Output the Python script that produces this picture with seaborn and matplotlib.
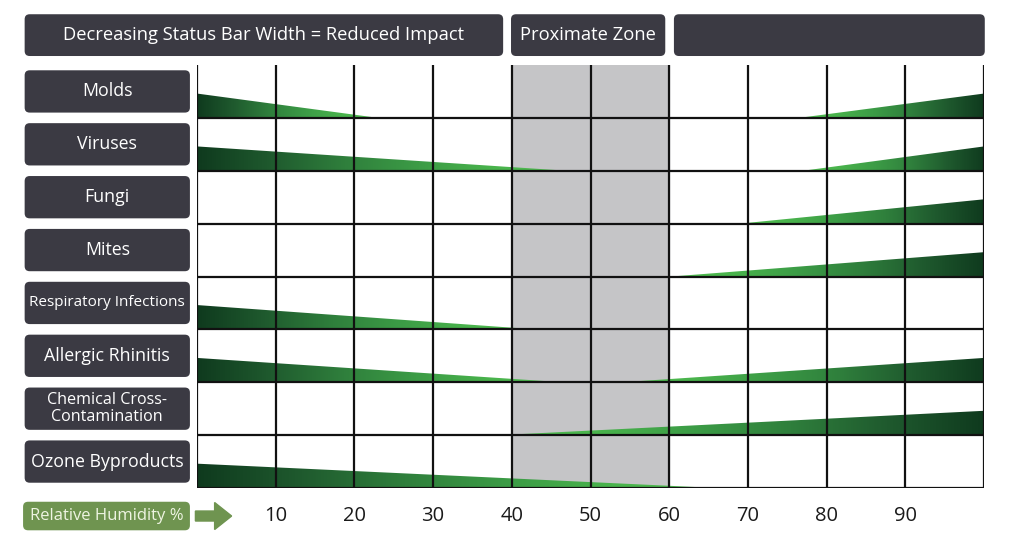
import numpy as np
import seaborn as sns
import matplotlib.pyplot as plt
from matplotlib.patches import FancyBboxPatch, Polygon, FancyArrow

# rows, top to bottom
categories = ["Molds", "Viruses", "Fungi", "Mites", "Respiratory Infections",
              "Allergic Rhinitis", "Chemical Cross-\nContamination", "Ozone Byproducts"]
# humidity % where the low-humidity impact bar tapers to zero (NaN = no bar)
low_end = [23, 47, np.nan, np.nan, 43, 46.5, np.nan, 66]
# humidity % where the high-humidity impact bar starts (NaN = no bar)
high_start = [76.5, 77, 69, 60.3, np.nan, 54, 38.5, np.nan]
humidity_ticks = [10, 20, 30, 40, 50, 60, 70, 80, 90]
proximate_zone = (40, 60)

header_main = "Decreasing Status Bar Width = Reduced Impact"
header_zone = "Proximate Zone"
axis_label = "Relative Humidity %"

sns.set_theme(style="white")
plt.rcParams['font.family'] = ['Open Sans', 'DejaVu Sans']

box_color = "#3b3a43"
green_cmap = sns.blend_palette(["#0f3a1e", "#1f5a2e", "#2f7f3c", "#3c9c46", "#49b34c", "#52bf52"],
                               as_cmap=True)

n = len(categories)
bar_h = 0.46

fig = plt.figure(figsize=(10.24, 5.52), dpi=100)
ax = fig.add_axes([197 / 1024, 64 / 552, 787 / 1024, 423 / 552])
ax.set_xlim(0, 100)
ax.set_ylim(0, n)

# aspect correction so rounded corners look round
px_x = 787 / 100
px_y = 423 / n
asp = px_x / px_y
rad = 5 / px_x


def rbox(x0, x1, y0, y1, color):
    p = FancyBboxPatch((x0, y0), x1 - x0, y1 - y0,
                       boxstyle=f"round,pad=0,rounding_size={rad}",
                       mutation_aspect=asp, facecolor=color, edgecolor="none",
                       clip_on=False, zorder=5)
    ax.add_patch(p)


ax.axvspan(*proximate_zone, color="#c5c5c7", zorder=0)

grad = np.linspace(0, 1, 256).reshape(1, -1)
for i, cat in enumerate(categories):
    y0 = n - 1 - i
    if not np.isnan(low_end[i]):
        x1 = low_end[i]
        poly = Polygon([(0, y0), (0, y0 + bar_h), (x1, y0)], closed=True,
                       facecolor="none", edgecolor="none")
        ax.add_patch(poly)
        im = ax.imshow(grad, extent=[0, x1, y0, y0 + bar_h], cmap=green_cmap,
                       aspect="auto", zorder=1, interpolation="bilinear")
        im.set_clip_path(poly)
    if not np.isnan(high_start[i]):
        x0 = high_start[i]
        poly = Polygon([(x0, y0), (100, y0 + bar_h), (100, y0)], closed=True,
                       facecolor="none", edgecolor="none")
        ax.add_patch(poly)
        im = ax.imshow(grad[:, ::-1], extent=[x0, 100, y0, y0 + bar_h], cmap=green_cmap,
                       aspect="auto", zorder=1, interpolation="bilinear")
        im.set_clip_path(poly)

    # row label box
    yc = y0 + 0.5
    rbox(-21.9, -0.9, yc - 0.4, yc + 0.4, box_color)
    if cat.startswith("Respiratory"):
        fs = 11
    elif "\n" in cat:
        fs = 11.6
    else:
        fs = 12.8
    ax.text(-11.4, yc, cat, ha="center", va="center", color="white",
            fontsize=fs, linespacing=1.1, zorder=6, clip_on=False)

ax.set_xlim(0, 100)
ax.set_ylim(0, n)

# grid
for x in range(0, 101, 10):
    ax.axvline(x, color="#111111", lw=1.6, zorder=3)
for y in range(0, n):
    ax.axhline(y, color="#111111", lw=1.6, zorder=3)

for s in ax.spines.values():
    s.set_visible(False)
ax.set_yticks([])
ax.set_xticks(humidity_ticks)
ax.set_xticklabels([str(t) for t in humidity_ticks], fontsize=14.5, color="#1a1a1a")
ax.tick_params(axis="x", length=0, pad=13)

# header boxes
rbox(-21.9, 38.9, 8.17, 8.96, box_color)
ax.text(8.5, 8.565, header_main, ha="center", va="center", color="white",
        fontsize=13.2, zorder=6, clip_on=False)
rbox(39.9, 59.5, 8.17, 8.96, box_color)
ax.text(49.7, 8.565, header_zone, ha="center", va="center", color="white",
        fontsize=13.2, zorder=6, clip_on=False)
rbox(60.6, 100.1, 8.17, 8.96, box_color)

# bottom axis label + arrow
rbox(-22.1, -0.9, -0.8, -0.26, "#6f9450")
ax.text(-11.5, -0.53, axis_label, ha="center", va="center", color="#eef4e2",
        fontsize=12, zorder=6, clip_on=False)
ax.add_patch(FancyArrow(-0.2, -0.53, 4.6, 0, width=10 / px_y, head_width=27 / px_y,
                        head_length=17 / px_x, length_includes_head=True,
                        color="#6f9450", clip_on=False, zorder=6))

fig.savefig("out.png", dpi=100, facecolor="white")
